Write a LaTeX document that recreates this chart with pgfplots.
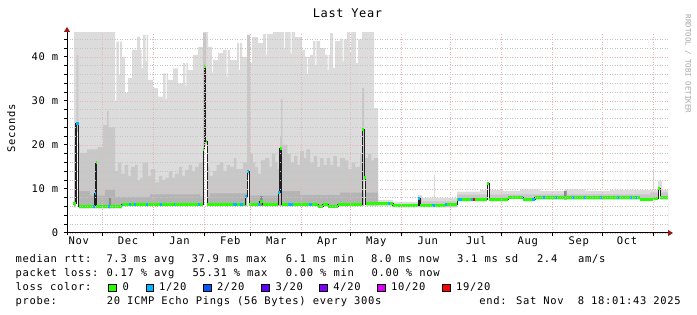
\documentclass[border=0pt]{standalone}
\usepackage{pgfplots}
\pgfplotsset{compat=1.18}
\usetikzlibrary{arrows.meta}
\usepackage{fontspec}
\setmainfont{DejaVu Sans Mono}[LetterSpace=6.5]
\newfontfamily\titlefont{DejaVu Sans Mono}[LetterSpace=5]
\newfontfamily\markfont{DejaVu Sans Mono}
\newcommand\rrdfont{\fontsize{10.5bp}{12.6bp}\selectfont}
\definecolor{smokeA}{HTML}{DCDCDC}
\definecolor{smokeB}{HTML}{C8C8C8}
\definecolor{smokeC}{HTML}{B4B4B4}
\definecolor{smokeD}{HTML}{8A8A8A}
\definecolor{loss0}{HTML}{26FF00}
\definecolor{loss1}{HTML}{00B8FF}
\definecolor{loss2}{HTML}{0059FF}
\definecolor{loss3}{HTML}{5E00FF}
\definecolor{loss4}{HTML}{7E00FF}
\definecolor{loss10}{HTML}{DD00FF}
\definecolor{loss19}{HTML}{FF0000}
\definecolor{mgrid}{HTML}{EBB4B4}
\definecolor{ngrid}{HTML}{C4C4C4}
\definecolor{arrowred}{HTML}{9A1A1A}
\definecolor{medline}{HTML}{202020}
\begin{document}
\begin{tikzpicture}[font=\rrdfont]
\path[use as bounding box] (0,0) rectangle (697bp,315bp);
\begin{axis}[
  at={(67bp,82bp)}, anchor=south west,
  scale only axis, width=601bp, height=200bp,
  xmin=0, xmax=365.35, ymin=0, ymax=45.45,
  axis on top,
  axis x line*=bottom, axis y line*=left,
  axis line style={black, line width=1bp},
  x axis line style={-{Triangle[length=5bp,width=6bp,color=arrowred]}, shorten >=-5bp, shorten <=-3.5bp},
  y axis line style={-{Triangle[length=5bp,width=6bp,color=arrowred]}, shorten >=-6bp, shorten <=-2bp},
  xtick={21.3,52.3,83.3,111.3,142.3,172.3,203.3,233.3,264.3,295.3,325.3,356.3},
  xticklabels={},
  extra x ticks={7.11,37.09,68.40,99.28,127.25,158.19,188.04,219.35,248.84,280.15,311.10,340.46},
  extra x tick labels={Nov,Dec,Jan,Feb,Mar,Apr,May,Jun,Jul,Aug,Sep,Oct},
  extra x tick style={major tick length=0pt, grid=none},
  ytick={0,10,20,30,40},
  yticklabels={0,10 m,20 m,30 m,40 m},
  minor ytick={2,4,6,8,12,14,16,18,22,24,26,28,32,34,36,38,42,44},
  xmajorgrids, ymajorgrids, yminorgrids,
  major grid style={draw=mgrid, line width=0.8bp, dash pattern=on 1bp off 1.5bp},
  minor grid style={draw=ngrid, line width=0.8bp, dash pattern=on 1bp off 1.5bp},
  tick align=outside, major tick length=3bp, minor tick length=3bp,
  tick style={black, line width=1bp},
  tick label style={font=\rrdfont},
  xticklabel style={anchor=base, inner sep=0pt, yshift=-11.3bp},
  yticklabel style={anchor=east, inner sep=0pt, xshift=-5.5bp},
]
% light smoke
\addplot[const plot, fill=smokeA, draw=none] coordinates {
(4.26,46) (29.18,30) (30.09,43.5) (31.5,36) (32.1,43.5) (33.44,40) (35.26,31.8) (37.09,35.2) (39.52,41.6) (42.56,44.6) (44.38,41.6) (45.4,37.5) (46.21,45) (47.8,39) (48.4,45) (49.25,34.8) (52.29,32.9) (55.33,31) (58.37,36.3) (60.0,30.5) (60.6,36.3) (61.41,34.8) (64.44,37.4) (67.48,34) (70.52,38.6) (72.0,33.5) (72.6,38.6) (73.56,37) (76.60,40.5) (79.64,42.3) (82.68,46) (85.72,42.3) (88.0,36.5) (88.76,39.3) (91.80,40.9) (94.84,41.6) (97.0,35.5) (97.6,41.6) (99.10,39.3) (103.35,43.2) (104.5,37) (105.1,43.2) (106.39,40) (109.43,38.6) (112.47,44.5) (116.12,43.2) (119.16,45.2) (121.0,40.5) (121.6,45.2) (125.24,46) (132.0,42) (132.6,46) (136.0,40.8) (136.6,46) (138.62,44.5) (142.87,41.6) (144.70,40) (146.0,36) (146.6,40) (147.74,40.5) (149.56,43.6) (151.0,38) (151.6,43.6) (153.82,42) (156.86,40.5) (158.5,37) (159.1,40.5) (159.90,45.4) (161.72,37.5) (162.94,43.6) (165.98,44) (167.5,39) (168.1,44) (170.23,46) (172.0,41) (172.6,46) (175.70,38.6) (176.92,44) (179.35,46) (186.65,28.4) (189.07,7.5) (198.20,7.1) (213.39,8.6) (215.83,8.0) (223.12,13.2) (223.73,8.0) (237.11,9.4) (251.09,9.8) (265.07,9.6) (275.41,9.9) (287.56,9.6) (302.76,9.9) (314.92,9.6) (330.12,9.8) (356.26,14.3) (356.87,9.8) (359.30,11.8) (361.73,9.8) (365.35,9.8)
} \closedcycle;
% medium smoke
\addplot[const plot, fill=smokeB, draw=none] coordinates {
(4.26,20.5) (5.78,40.5) (6.99,20.5) (7.90,18.2) (12.16,19) (18.85,19.5) (21.89,24.5) (24.32,27.7) (25.23,24) (29.18,14) (31,16) (33,13.5) (35,15.5) (37.09,13) (39,15) (41.34,15.5) (43,12) (44.38,12.5) (46,16) (47.42,16) (49.25,13) (51,14.5) (53.50,11.5) (56,13) (58,12) (59.58,12.5) (62,14) (64,12.5) (65.66,13.5) (68,15) (70,13) (71.74,14.3) (74,15.5) (76,14) (77.82,15) (80,16) (82.68,45.5) (84.51,15) (86.5,13) (88.76,14) (91,15.5) (93.02,16) (95,14) (97,15.5) (99.10,15) (101.5,17) (103,14.5) (105.18,14.5) (107,16) (109.43,45) (111.26,18) (113,16) (114.30,15) (116,13.5) (118,16.5) (120.38,17) (123,15) (124.5,18) (126.46,16) (128,14.5) (129.50,22) (130.11,30.4) (131.0,20) (134.0,18) (136,16) (138,17.5) (140,15.5) (141.65,18.6) (144,17) (145.5,19) (147.74,16) (150,17.5) (152,15) (153.82,17) (156,15.5) (158,17) (159.90,15.5) (162,17.5) (164,15) (166,17) (169.01,16.5) (171,14.5) (173,16) (175.09,15) (178.13,18) (179.35,33) (180.57,17) (183,18) (185,16.5) (186.65,17) (189.07,6.9) (198.20,6.6) (213.39,7.8) (215.83,7.2) (237.11,8.7) (265.07,8.8) (302.15,9.6) (303.97,8.8) (354.44,9.2) (365.35,9.2)
} \closedcycle;
% darker smoke
\addplot[const plot, fill=smokeC, draw=none] coordinates {
(4.26,9.5) (13.98,8.5) (23.10,9.8) (29.18,8.2) (50.47,8.8) (80.86,8.3) (86.94,9) (111.26,8.5) (129.50,9.5) (141.65,8.6) (165.98,9.2) (189.07,0) (365.35,0)
} \closedcycle;
% darkest smoke patches
\addplot[const plot, fill=smokeD, draw=none] coordinates {
(0,0) (25.53,8.0) (26.75,0) (117.34,8.4) (118.86,0) (302.15,9.6) (303.67,0) (365.35,0)
} \closedcycle;
% empty space below the lowest ping
\addplot[const plot, fill=white, draw=none] coordinates {
(0,5.8) (5.47,23) (7.05,5.6) (33.44,6.1) (82.87,18) (83.47,20) (85.30,6.1) (109.62,13.2) (110.83,6.1) (180.75,12) (181.60,6.2) (198.20,5.8) (237.11,7.2) (255.35,10.8) (256.74,7.2) (268.11,7.7) (277.23,7.2) (284.52,7.6) (359.30,9.6) (360.70,7.6) (365.35,7.6)
} \closedcycle;
% median rtt
\addplot[const plot mark left, medline, line width=1.1bp] coordinates {
(3.65,6.8) (5.47,24.8) (7.05,6.0) (17.02,8.9) (17.63,16.0) (17.75,6.0) (33.44,6.5) (82.87,18.9) (83.47,37.9) (84.33,20.8) (85.30,6.5) (108.40,8.3) (109.62,14.0) (110.83,6.5) (117.04,7.2) (118.86,6.5) (128.46,9.2) (129.50,19.3) (130.53,6.5) (152.60,6.1) (155.64,6.4) (158.68,6.0) (164.76,6.4) (179.53,23.5) (180.75,12.5) (181.60,6.6) (198.20,6.2) (213.58,7.9) (214.61,6.2) (229.81,6.4) (237.11,7.6) (255.35,11.3) (256.74,7.6) (268.11,8.1) (277.23,7.6) (284.52,8.0) (348.36,7.5) (352.60,7.7) (356.26,7.9) (359.30,10.2) (360.70,8.0) (365.35,8.0)
};
\addplot[jump mark left, loss0, line width=3bp] coordinates {
(3.65,6.8) (5.47,24.8) (7.05,6.0) (17.02,8.9) (17.63,16.0) (17.75,6.0) (33.44,6.5) (82.87,18.9) (83.47,37.9) (84.33,20.8) (85.30,6.5) (108.40,8.3) (109.62,14.0) (110.83,6.5) (117.04,7.2) (118.86,6.5) (128.46,9.2) (129.50,19.3) (130.53,6.5) (152.60,6.1) (155.64,6.4) (158.68,6.0) (164.76,6.4) (179.53,23.5) (180.75,12.5) (181.60,6.6) (198.20,6.2) (213.58,7.9) (214.61,6.2) (229.81,6.4) (237.11,7.6) (255.35,11.3) (256.74,7.6) (268.11,8.1) (277.23,7.6) (284.52,8.0) (348.36,7.5) (352.60,7.7) (356.26,7.9) (359.30,10.2) (360.70,8.0) (365.35,8.0)
};
% 1/20 loss
\addplot[loss1, line width=3bp, unbounded coords=jump] coordinates {
(5.47,24.8)(7.05,24.8)(7.05,nan)
(15.81,6.0)(16.72,6.0)(16.72,nan)
(17.02,8.9)(17.63,8.9)(17.63,nan)
(24.93,6.0)(25.84,6.0)(25.84,nan)
(33.26,6.3)(34.05,6.3)(34.05,nan)
(37.69,6.5)(38.61,6.5)(38.61,nan)
(40.73,6.5)(41.65,6.5)(41.65,nan)
(48.03,6.5)(48.94,6.5)(48.94,nan)
(56.54,6.5)(57.45,6.5)(57.45,nan)
(64.75,6.5)(65.66,6.5)(65.66,nan)
(79.64,6.5)(80.56,6.5)(80.56,nan)
(101.10,6.5)(103.05,6.5)(103.05,nan)
(105.18,6.5)(106.70,6.5)(106.70,nan)
(108.40,8.3)(109.62,8.3)(109.62,nan)
(109.62,14.0)(110.83,14.0)(110.83,nan)
(116.31,6.5)(117.04,6.5)(117.04,nan)
(128.46,9.2)(129.50,9.2)(129.50,nan)
(134.36,6.5)(137.40,6.5)(137.40,nan)
(147.13,6.5)(148.95,6.5)(148.95,nan)
(195.16,6.6)(196.38,6.6)(196.38,nan)
(213.58,7.9)(214.61,7.9)(214.61,nan)
(221.91,6.2)(223.73,6.2)(223.73,nan)
(230.00,6.4)(231.03,6.4)(231.03,nan)
(237.72,7.6)(240.15,7.6)(240.15,nan)
(245.43,7.6)(247.01,7.6)(247.01,nan)
(276.44,8.1)(277.23,8.1)(277.23,nan)
(282.71,7.6)(284.52,7.6)(284.52,nan)
(289.39,8.0)(290.30,8.0)(290.30,nan)
(296.69,8.0)(297.60,8.0)(297.60,nan)
(307.02,8.0)(307.93,8.0)(307.93,nan)
(314.32,8.0)(315.23,8.0)(315.23,nan)
(324.05,8.0)(324.96,8.0)(324.96,nan)
(334.38,8.0)(335.29,8.0)(335.29,nan)
(342.28,8.0)(343.19,8.0)(343.19,nan)
(345.32,8.0)(346.23,8.0)
};
% 19/20 loss
\addplot[loss19, line width=3bp] coordinates {(247.01,7.6)(248.04,7.6)};
\end{axis}
% titles
\node[anchor=base, inner sep=0pt, font=\titlefont\fontsize{12bp}{14bp}\selectfont] at (347.5bp,297.7bp) {Last Year};
\node[rotate=90, anchor=base, inner sep=0pt] at (15bp,186.5bp) {Seconds};
\node[rotate=-90, anchor=base, inner sep=0pt, text=black!35, font=\markfont\fontsize{7.4bp}{9bp}\selectfont] at (685.5bp,251bp) {RRDTOOL / TOBI OETIKER};
% legend rows
\begin{scope}[every node/.style={anchor=base west, inner sep=0pt}]
\node at (15.5bp,52bp) {median rtt:};
\node at (106.3bp,52bp) {7.3 ms avg};
\node at (191.4bp,52bp) {37.9 ms max};
\node at (285.7bp,52bp) {6.1 ms min};
\node at (371bp,52bp) {8.0 ms now};
\node at (457bp,52bp) {3.1 ms sd};
\node at (536.8bp,52bp) {2.4};
\node at (578bp,52bp) {am/s};
\node at (15.5bp,38.7bp) {packet loss:};
\node at (106.3bp,38.7bp) {0.17 \% avg};
\node at (192.3bp,38.7bp) {55.31 \% max};
\node at (285.7bp,38.7bp) {0.00 \% min};
\node at (371.4bp,38.7bp) {0.00 \% now};
\node at (15.5bp,25bp) {loss color:};
\node at (122.5bp,25bp) {0};
\node at (159bp,25bp) {1/20};
\node at (216.8bp,25bp) {2/20};
\node at (275.4bp,25bp) {3/20};
\node at (333.2bp,25bp) {4/20};
\node at (391bp,25bp) {10/20};
\node at (456bp,25bp) {19/20};
\node at (15.5bp,10.4bp) {probe:};
\node at (106.6bp,10.4bp) {20 ICMP Echo Pings (56 Bytes) every 300s};
\node[anchor=base east] at (681bp,10.4bp) {end: Sat Nov~~8 18:01:43 2025};
\end{scope}
\begin{scope}[line width=0.8bp]
\draw[fill=loss0]  (108.5bp,23.7bp) rectangle (116bp,31bp);
\draw[fill=loss1]  (146bp,23.7bp) rectangle (153.5bp,31bp);
\draw[fill=loss2]  (203.5bp,23.7bp) rectangle (211bp,31bp);
\draw[fill=loss3]  (261.5bp,23.7bp) rectangle (269bp,31bp);
\draw[fill=loss4]  (319.5bp,23.7bp) rectangle (327bp,31bp);
\draw[fill=loss10] (377.5bp,23.7bp) rectangle (385bp,31bp);
\draw[fill=loss19] (442.5bp,23.7bp) rectangle (450bp,31bp);
\end{scope}
\end{tikzpicture}
\end{document}
